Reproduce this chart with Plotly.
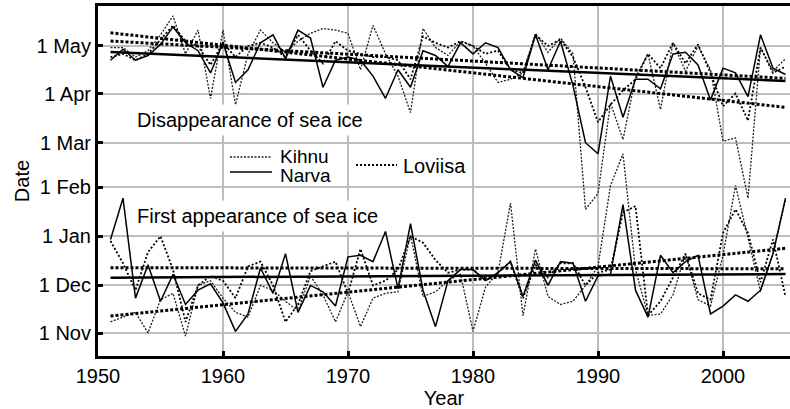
import plotly.graph_objects as go

# Ice seasons on the eastern Baltic coast, 1951-2005.
# Dates are stored as days counted from 1 November.
years = list(range(1951, 2006))

narva_disappear = [172, 179, 172, 175, 182, 193, 183, 178, 164, 183,
                   158, 166, 183, 188, 173, 191, 186, 155, 172, 174,
                   172, 162, 148, 166, 155, 178, 175, 168, 183, 176,
                   183, 180, 166, 161, 188, 166, 184, 156, 120, 113,
                   162, 136, 160, 160, 154, 176, 177, 169, 147, 167,
                   164, 149, 188, 167, 163]
kihnu_disappear = [180, 180, 174, 178, 188, 200, 176, 191, 148, 191,
                   144, 176, 191, 183, 177, 184, 189, 192, 191, 189,
                   166, 194, 176, 162, 139, 192, 180, 175, 184, 181,
                   170, 158, 160, 164, 189, 177, 186, 176, 78, 88,
                   145, 122, 161, 176, 141, 183, 165, 181, 166, 121,
                   123, 85, 180, 165, 173]
loviisa_disappear = [174, 176, 172, 176, 185, 194, 184, 181, 169, 183,
                     174, 181, 183, 180, 174, 188, 178, 170, 184, 178,
                     176, 174, 174, 172, 160, 187, 183, 180, 184, 181,
                     176, 178, 166, 164, 188, 181, 185, 174, 155, 133,
                     144, 153, 160, 176, 167, 183, 170, 182, 164, 143,
                     151, 134, 180, 164, 168]

narva_appear = [59, 85, 22, 43, 20, 37, 18, 27, 31, 19,
                1, 12, 41, 25, 50, 13, 30, 26, 17, 48,
                49, 45, 64, 28, 69, 27, 4, 33, 40, 40,
                33, 38, 45, 23, 46, 30, 45, 44, 20, 36,
                37, 81, 27, 10, 49, 38, 45, 49, 12, 17,
                24, 20, 27, 50, 85]
kihnu_appear = [7, 10, 13, 0, 21, 25, -2, 30, 33, 22,
                13, 10, 30, 27, 20, 14, 36, 24, 7, 26,
                4, 22, 25, 26, 62, 23, 26, 33, 37, 1,
                29, 38, 82, 11, 53, 23, 18, 20, 30, 42,
                93, 113, 40, 11, 12, 24, 50, 21, 17, 49,
                93, 60, 26, 50, 84]
loviisa_appear = [58, 44, 27, 51, 61, 40, 7, 30, 36, 33,
                  22, 42, 45, 30, 7, 18, 39, 42, 45, 25,
                  53, 30, 33, 40, 61, 57, 46, 38, 40, 40,
                  33, 38, 45, 22, 43, 35, 44, 44, 30, 38,
                  40, 76, 80, 11, 20, 35, 50, 25, 21, 63,
                  78, 63, 32, 59, 23]

# Linear trends: value at the first and at the last year
trend_years = [1951, 2005]
narva_disappear_trend = [177.2, 158.9]
kihnu_disappear_trend = [189.3, 142.3]
loviisa_disappear_trend = [184.1, 160.6]
narva_appear_trend = [34.9, 37.2]
kihnu_appear_trend = [10.7, 53.4]
loviisa_appear_trend = [41.2, 40.5]

date_ticks = [0, 30, 61, 92, 120, 151, 181]
date_labels = ["1 Nov", "1 Dec", "1 Jan", "1 Feb", "1 Mar", "1 Apr", "1 May"]
year_ticks = [1950, 1960, 1970, 1980, 1990, 2000]

FONT = "Liberation Sans, Arial, sans-serif"
FS = 20
W, H = 790, 409
L, R, T, B = 98, 0, 6, 53

styles = {
    "Kihnu": dict(color="#1e1e1e", width=1.3, dash="2px,1.5px"),
    "Narva": dict(color="black", width=1.5, dash="solid"),
    "Loviisa": dict(color="black", width=1.8, dash="2px,2px"),
}
trend_styles = {
    "Kihnu": dict(color="black", width=3, dash="3px,2px"),
    "Narva": dict(color="black", width=2.5, dash="solid"),
    "Loviisa": dict(color="black", width=3, dash="3px,2px"),
}

fig = go.Figure()

series = [
    ("Kihnu", kihnu_disappear, kihnu_appear),
    ("Loviisa", loviisa_disappear, loviisa_appear),
    ("Narva", narva_disappear, narva_appear),
]
for name, dis, app in series:
    for vals in (dis, app):
        fig.add_trace(go.Scatter(x=years, y=vals, mode="lines", name=name,
                                 line=styles[name], showlegend=False,
                                 hoverinfo="skip"))

trends = [
    ("Kihnu", kihnu_disappear_trend, kihnu_appear_trend),
    ("Loviisa", loviisa_disappear_trend, loviisa_appear_trend),
    ("Narva", narva_disappear_trend, narva_appear_trend),
]
for name, dis_t, app_t in trends:
    for vals in (dis_t, app_t):
        fig.add_trace(go.Scatter(x=trend_years, y=vals, mode="lines",
                                 line=trend_styles[name], showlegend=False,
                                 hoverinfo="skip"))


def px_x(px):
    return (px - L) / (W - L - R)


def px_y(py):
    return (H - B - py) / (H - T - B)


annotations = [
    dict(text="Disappearance of sea ice", x=px_x(132), y=px_y(120),
         bgcolor="white", borderpad=4, size=FS),
    dict(text="First appearance of sea ice", x=px_x(132), y=px_y(216),
         bgcolor="white", borderpad=4, size=FS),
    dict(text="Kihnu", x=px_x(278), y=px_y(156), size=19),
    dict(text="Narva", x=px_x(278), y=px_y(175), size=19),
    dict(text="Loviisa", x=px_x(401), y=px_y(166), size=FS),
]
for a in annotations:
    size = a.pop("size")
    a.update(xref="paper", yref="paper", xanchor="left", yanchor="middle",
             showarrow=False, font=dict(family=FONT, size=size, color="black"))

# legend keys
shapes = [
    dict(x0=px_x(230), x1=px_x(272), y0=px_y(157), y1=px_y(157),
         line=styles["Kihnu"]),
    dict(x0=px_x(230), x1=px_x(272), y0=px_y(172), y1=px_y(172),
         line=styles["Narva"]),
    dict(x0=px_x(356), x1=px_x(397), y0=px_y(165), y1=px_y(165),
         line=styles["Loviisa"]),
]
for s in shapes:
    s.update(type="line", xref="paper", yref="paper")

axis_common = dict(
    showgrid=True, gridcolor="#bdbdbd", gridwidth=1.5,
    showline=True, linecolor="black", linewidth=3,
    ticks="inside", ticklen=5, tickwidth=2.5, tickcolor="black",
    tickfont=dict(family=FONT, size=FS, color="black"),
    zeroline=False,
)

fig.update_layout(
    width=W, height=H,
    margin=dict(l=L, r=R, t=T, b=B, pad=0),
    plot_bgcolor="white", paper_bgcolor="white",
    font=dict(family=FONT, size=FS, color="black"),
    xaxis=dict(range=[1950, 2005.36], tickvals=year_ticks, mirror=True,
               title=dict(text="Year", font=dict(family=FONT, size=FS),
                          standoff=2),
               **axis_common),
    yaxis=dict(range=[-14.5, 206.2], tickvals=date_ticks, ticktext=date_labels,
               mirror=False,
               title=dict(text="Date", font=dict(family=FONT, size=FS),
                          standoff=2),
               **axis_common),
    annotations=annotations,
    shapes=shapes,
    showlegend=False,
)

fig.write_html("out.html")
